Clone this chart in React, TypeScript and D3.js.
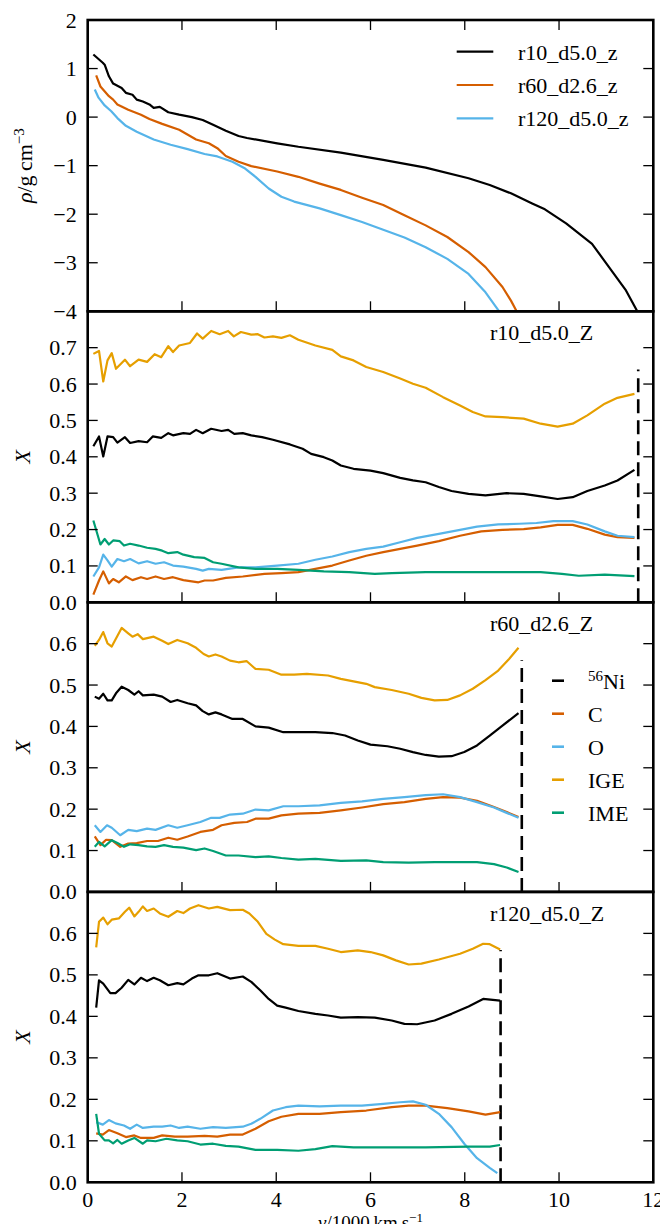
import React from "react";
import * as d3 from "d3";

// ---------- data ----------
type Pt = [number, number];

const densityLabels = ["r10_d5.0_z", "r60_d2.6_z", "r120_d5.0_z"];

// log10 density vs velocity (1000 km/s)
const rhoR10: Pt[] = [
  [0.12, 1.29], [0.32, 1.12], [0.36, 1.08], [0.45, 0.84], [0.54, 0.69], [0.72, 0.6], [0.81, 0.5],
  [0.95, 0.46], [1.04, 0.36], [1.17, 0.32], [1.31, 0.26], [1.4, 0.19], [1.53, 0.21], [1.71, 0.1],
  [1.94, 0.05], [2.21, 0.0], [2.44, -0.06], [2.66, -0.16], [2.93, -0.28], [3.2, -0.39], [3.38, -0.43],
  [4.02, -0.54], [4.47, -0.61], [5.37, -0.73], [6.27, -0.88], [7.17, -1.04], [8.08, -1.26],
  [8.53, -1.4], [8.98, -1.57], [9.43, -1.78], [9.7, -1.9], [10.15, -2.19], [10.7, -2.61],
  [11.06, -3.09], [11.42, -3.57], [11.66, -4.0],
];
const rhoR60: Pt[] = [
  [0.18, 0.86], [0.27, 0.63], [0.45, 0.43], [0.54, 0.36], [0.63, 0.26], [0.86, 0.15], [1.13, 0.05],
  [1.31, -0.04], [1.58, -0.14], [1.94, -0.26], [2.3, -0.46], [2.57, -0.54], [2.75, -0.64],
  [2.93, -0.8], [3.2, -0.92], [3.47, -1.01], [4.02, -1.12], [4.47, -1.23], [4.92, -1.37],
  [5.37, -1.5], [5.82, -1.66], [6.27, -1.81], [6.72, -2.02], [7.17, -2.23], [7.63, -2.47],
  [8.08, -2.78], [8.44, -3.09], [8.8, -3.5], [8.98, -3.78], [9.1, -4.0],
];
const rhoR120: Pt[] = [
  [0.15, 0.57], [0.23, 0.4], [0.36, 0.24], [0.5, 0.12], [0.63, -0.02], [0.81, -0.18], [1.04, -0.3],
  [1.4, -0.46], [1.76, -0.57], [2.12, -0.66], [2.48, -0.76], [2.75, -0.81], [3.07, -0.92],
  [3.34, -1.06], [3.56, -1.23], [3.84, -1.47], [4.11, -1.64], [4.38, -1.74], [4.92, -1.88],
  [5.37, -2.02], [5.82, -2.16], [6.27, -2.32], [6.72, -2.48], [7.17, -2.68], [7.63, -2.92],
  [8.08, -3.23], [8.44, -3.61], [8.73, -4.0],
];

const speciesNames = ["Ni", "C", "O", "IGE", "IME"];
const modelTitles = ["r10_d5.0_Z", "r60_d2.6_Z", "r120_d5.0_Z"];
// outer edge of the 56Ni region for each model
const niEdge = [11.68, 9.21, 8.76];

// mass fractions, model r10_d5.0_Z
const r10Ni: Pt[] = [
  [0.12, 0.429], [0.24, 0.456], [0.33, 0.401], [0.42, 0.456], [0.54, 0.454], [0.63, 0.439],
  [0.79, 0.454], [0.9, 0.438], [1.08, 0.443], [1.26, 0.44], [1.38, 0.456], [1.56, 0.452],
  [1.71, 0.465], [1.81, 0.459], [2.03, 0.465], [2.17, 0.463], [2.3, 0.474], [2.44, 0.465],
  [2.62, 0.477], [2.84, 0.471], [2.98, 0.474], [3.11, 0.463], [3.29, 0.465], [3.47, 0.459],
  [3.7, 0.454], [3.93, 0.447], [4.29, 0.434], [4.56, 0.422], [4.74, 0.408], [5.01, 0.399],
  [5.19, 0.39], [5.37, 0.376], [5.64, 0.367], [6.0, 0.362], [6.27, 0.355], [6.63, 0.342],
  [6.9, 0.335], [7.17, 0.33], [7.45, 0.317], [7.72, 0.306], [8.08, 0.298], [8.44, 0.294],
  [8.89, 0.3], [9.25, 0.298], [9.61, 0.291], [9.97, 0.284], [10.29, 0.289], [10.6, 0.306],
  [10.97, 0.321], [11.24, 0.335], [11.6, 0.364],
];
const r10C: Pt[] = [
  [0.12, 0.021], [0.24, 0.06], [0.33, 0.085], [0.45, 0.052], [0.54, 0.064], [0.66, 0.055],
  [0.81, 0.071], [0.95, 0.061], [1.13, 0.069], [1.26, 0.064], [1.44, 0.071], [1.62, 0.064],
  [1.81, 0.069], [2.03, 0.061], [2.35, 0.055], [2.48, 0.06], [2.66, 0.06], [2.93, 0.067],
  [3.29, 0.071], [3.75, 0.078], [4.11, 0.08], [4.47, 0.083], [4.83, 0.092], [5.19, 0.101],
  [5.55, 0.115], [5.91, 0.128], [6.27, 0.138], [6.63, 0.147], [6.99, 0.156], [7.45, 0.168],
  [7.9, 0.183], [8.35, 0.195], [8.8, 0.199], [9.25, 0.201], [9.61, 0.206], [9.97, 0.213],
  [10.29, 0.213], [10.6, 0.202], [10.97, 0.186], [11.24, 0.179], [11.6, 0.177],
];
const r10O: Pt[] = [
  [0.12, 0.071], [0.24, 0.096], [0.33, 0.131], [0.42, 0.115], [0.51, 0.098], [0.63, 0.119],
  [0.77, 0.113], [0.9, 0.119], [1.08, 0.107], [1.26, 0.113], [1.44, 0.106], [1.62, 0.11],
  [1.81, 0.101], [2.03, 0.098], [2.3, 0.092], [2.44, 0.087], [2.57, 0.092], [2.84, 0.089],
  [3.2, 0.096], [3.56, 0.096], [4.02, 0.101], [4.47, 0.106], [4.83, 0.117], [5.19, 0.126],
  [5.55, 0.138], [5.91, 0.147], [6.27, 0.153], [6.63, 0.165], [6.99, 0.177], [7.45, 0.188],
  [7.9, 0.199], [8.26, 0.208], [8.71, 0.214], [9.16, 0.216], [9.52, 0.218], [9.88, 0.223],
  [10.29, 0.223], [10.6, 0.214], [10.97, 0.195], [11.24, 0.183], [11.6, 0.179],
];
const r10IGE: Pt[] = [
  [0.12, 0.683], [0.24, 0.691], [0.33, 0.607], [0.42, 0.665], [0.51, 0.685], [0.6, 0.642],
  [0.79, 0.667], [0.9, 0.649], [1.08, 0.667], [1.26, 0.661], [1.42, 0.682], [1.56, 0.674],
  [1.71, 0.704], [1.81, 0.688], [1.94, 0.706], [2.17, 0.713], [2.32, 0.739], [2.44, 0.725],
  [2.62, 0.746], [2.8, 0.737], [2.98, 0.746], [3.1, 0.731], [3.25, 0.743], [3.47, 0.736],
  [3.61, 0.737], [3.75, 0.728], [3.93, 0.731], [4.11, 0.727], [4.29, 0.734], [4.47, 0.722],
  [4.83, 0.706], [5.19, 0.694], [5.37, 0.676], [5.64, 0.665], [5.91, 0.647], [6.27, 0.633],
  [6.63, 0.615], [6.9, 0.601], [7.17, 0.59], [7.54, 0.564], [7.9, 0.541], [8.17, 0.523],
  [8.44, 0.511], [8.8, 0.509], [9.25, 0.505], [9.61, 0.491], [9.97, 0.483], [10.29, 0.491],
  [10.6, 0.514], [10.97, 0.546], [11.24, 0.562], [11.6, 0.573],
];
const r10IME: Pt[] = [
  [0.12, 0.225], [0.27, 0.159], [0.36, 0.174], [0.45, 0.159], [0.54, 0.17], [0.68, 0.168],
  [0.77, 0.156], [0.9, 0.161], [1.08, 0.156], [1.26, 0.15], [1.44, 0.147], [1.58, 0.142],
  [1.71, 0.135], [1.9, 0.138], [2.03, 0.131], [2.26, 0.124], [2.48, 0.122], [2.66, 0.11],
  [2.84, 0.106], [3.2, 0.096], [3.56, 0.092], [4.02, 0.092], [4.47, 0.089], [5.01, 0.085],
  [5.55, 0.083], [6.09, 0.078], [6.45, 0.08], [7.17, 0.083], [8.08, 0.083], [8.98, 0.083],
  [9.61, 0.083], [10.06, 0.078], [10.42, 0.073], [10.97, 0.076], [11.6, 0.072],
];

// mass fractions, model r60_d2.6_Z
const r60Ni: Pt[] = [
  [0.15, 0.472], [0.24, 0.467], [0.33, 0.479], [0.42, 0.463], [0.51, 0.463], [0.6, 0.48],
  [0.72, 0.496], [0.86, 0.488], [0.99, 0.477], [1.08, 0.485], [1.17, 0.475], [1.4, 0.477],
  [1.58, 0.472], [1.76, 0.459], [1.9, 0.464], [2.12, 0.456], [2.3, 0.451], [2.44, 0.437],
  [2.57, 0.429], [2.71, 0.434], [2.84, 0.429], [3.07, 0.418], [3.29, 0.418], [3.56, 0.4],
  [3.84, 0.397], [4.15, 0.386], [4.47, 0.386], [4.83, 0.386], [5.19, 0.384], [5.46, 0.378],
  [5.73, 0.366], [6.0, 0.356], [6.36, 0.352], [6.63, 0.346], [6.9, 0.338], [7.17, 0.331],
  [7.45, 0.327], [7.72, 0.328], [7.99, 0.338], [8.26, 0.354], [8.53, 0.378], [8.8, 0.402],
  [9.14, 0.432],
];
const r60C: Pt[] = [
  [0.15, 0.134], [0.27, 0.113], [0.39, 0.126], [0.51, 0.125], [0.69, 0.109], [0.86, 0.117],
  [1.04, 0.118], [1.26, 0.123], [1.49, 0.123], [1.71, 0.131], [1.9, 0.126], [2.12, 0.134],
  [2.39, 0.145], [2.66, 0.15], [2.84, 0.161], [3.11, 0.167], [3.38, 0.169], [3.56, 0.177],
  [3.84, 0.177], [4.11, 0.185], [4.47, 0.189], [4.92, 0.191], [5.37, 0.197], [5.82, 0.204],
  [6.27, 0.212], [6.72, 0.217], [7.17, 0.225], [7.54, 0.229], [7.9, 0.228], [8.26, 0.22],
  [8.62, 0.205], [8.89, 0.193], [9.14, 0.181],
];
const r60O: Pt[] = [
  [0.15, 0.161], [0.27, 0.145], [0.41, 0.161], [0.51, 0.155], [0.69, 0.137], [0.86, 0.15],
  [1.04, 0.147], [1.26, 0.153], [1.44, 0.15], [1.71, 0.161], [1.9, 0.155], [2.12, 0.161],
  [2.39, 0.169], [2.62, 0.179], [2.8, 0.179], [3.02, 0.187], [3.29, 0.189], [3.56, 0.199],
  [3.84, 0.197], [4.15, 0.207], [4.47, 0.207], [4.92, 0.209], [5.37, 0.215], [5.82, 0.219],
  [6.27, 0.225], [6.72, 0.229], [7.17, 0.234], [7.54, 0.236], [7.9, 0.229], [8.26, 0.217],
  [8.62, 0.204], [8.89, 0.191], [9.14, 0.179],
];
const r60IGE: Pt[] = [
  [0.15, 0.595], [0.24, 0.609], [0.33, 0.628], [0.42, 0.601], [0.51, 0.593], [0.72, 0.638],
  [0.86, 0.625], [0.95, 0.617], [1.06, 0.623], [1.17, 0.611], [1.4, 0.617], [1.58, 0.607],
  [1.71, 0.599], [1.9, 0.609], [2.12, 0.601], [2.3, 0.59], [2.46, 0.575], [2.57, 0.569],
  [2.71, 0.574], [2.84, 0.569], [3.02, 0.559], [3.2, 0.555], [3.37, 0.558], [3.56, 0.539],
  [3.84, 0.537], [4.11, 0.525], [4.38, 0.525], [4.65, 0.527], [5.1, 0.523], [5.37, 0.515],
  [5.64, 0.509], [5.91, 0.503], [6.09, 0.495], [6.45, 0.488], [6.81, 0.479], [7.08, 0.469],
  [7.36, 0.463], [7.63, 0.464], [7.9, 0.475], [8.17, 0.491], [8.44, 0.512], [8.71, 0.535],
  [8.94, 0.563], [9.14, 0.59],
];
const r60IME: Pt[] = [
  [0.15, 0.109], [0.24, 0.121], [0.36, 0.11], [0.51, 0.125], [0.63, 0.118], [0.77, 0.109],
  [0.9, 0.115], [1.08, 0.113], [1.26, 0.11], [1.44, 0.109], [1.62, 0.113], [1.81, 0.109],
  [2.03, 0.107], [2.3, 0.101], [2.48, 0.105], [2.66, 0.099], [2.93, 0.088], [3.2, 0.088],
  [3.56, 0.084], [3.84, 0.086], [4.11, 0.082], [4.47, 0.078], [4.83, 0.08], [5.37, 0.075],
  [5.91, 0.076], [6.27, 0.072], [6.81, 0.071], [7.36, 0.072], [7.9, 0.072], [8.26, 0.072],
  [8.62, 0.067], [8.89, 0.059], [9.14, 0.048],
];

// mass fractions, model r120_d5.0_Z
const r120Ni: Pt[] = [
  [0.18, 0.421], [0.24, 0.487], [0.33, 0.479], [0.48, 0.456], [0.59, 0.456], [0.72, 0.469],
  [0.86, 0.488], [0.99, 0.477], [1.13, 0.493], [1.26, 0.485], [1.4, 0.493], [1.53, 0.487],
  [1.71, 0.475], [1.9, 0.48], [2.03, 0.477], [2.21, 0.491], [2.35, 0.499], [2.57, 0.499],
  [2.75, 0.504], [3.02, 0.491], [3.29, 0.496], [3.47, 0.483], [3.66, 0.463], [3.84, 0.442],
  [4.02, 0.426], [4.2, 0.421], [4.47, 0.413], [4.83, 0.406], [5.1, 0.402], [5.37, 0.397],
  [5.73, 0.398], [6.09, 0.397], [6.45, 0.39], [6.72, 0.382], [6.99, 0.381], [7.36, 0.39],
  [7.72, 0.406], [8.08, 0.424], [8.39, 0.442], [8.75, 0.438],
];
const r120C: Pt[] = [
  [0.18, 0.118], [0.32, 0.115], [0.45, 0.126], [0.63, 0.118], [0.81, 0.109], [0.99, 0.113],
  [1.13, 0.107], [1.4, 0.107], [1.58, 0.113], [1.85, 0.11], [2.12, 0.11], [2.48, 0.112],
  [2.75, 0.11], [3.02, 0.115], [3.29, 0.115], [3.56, 0.129], [3.84, 0.147], [4.11, 0.158],
  [4.47, 0.165], [4.92, 0.165], [5.37, 0.169], [5.91, 0.173], [6.45, 0.181], [6.81, 0.185],
  [7.17, 0.185], [7.63, 0.179], [8.08, 0.171], [8.44, 0.163], [8.75, 0.169],
];
const r120O: Pt[] = [
  [0.18, 0.145], [0.32, 0.139], [0.45, 0.15], [0.59, 0.142], [0.77, 0.137], [0.9, 0.129],
  [1.04, 0.139], [1.17, 0.131], [1.4, 0.134], [1.58, 0.134], [1.76, 0.137], [1.94, 0.131],
  [2.12, 0.134], [2.39, 0.129], [2.66, 0.133], [2.93, 0.131], [3.29, 0.134], [3.47, 0.141],
  [3.66, 0.153], [3.93, 0.173], [4.2, 0.181], [4.47, 0.185], [4.92, 0.183], [5.37, 0.185],
  [5.82, 0.185], [6.27, 0.189], [6.63, 0.193], [6.9, 0.195], [7.17, 0.187], [7.45, 0.165],
  [7.72, 0.133], [7.99, 0.093], [8.26, 0.058], [8.53, 0.035], [8.69, 0.022],
];
const r120IGE: Pt[] = [
  [0.18, 0.566], [0.24, 0.628], [0.33, 0.638], [0.42, 0.622], [0.51, 0.633], [0.66, 0.636],
  [0.79, 0.652], [0.88, 0.662], [0.99, 0.641], [1.08, 0.652], [1.17, 0.665], [1.26, 0.654],
  [1.4, 0.66], [1.53, 0.648], [1.71, 0.64], [1.9, 0.654], [2.03, 0.649], [2.17, 0.66],
  [2.35, 0.668], [2.57, 0.66], [2.75, 0.664], [3.02, 0.656], [3.29, 0.657], [3.43, 0.648],
  [3.61, 0.628], [3.79, 0.599], [3.97, 0.585], [4.15, 0.574], [4.47, 0.57], [4.83, 0.57],
  [5.1, 0.563], [5.37, 0.555], [5.73, 0.559], [6.0, 0.555], [6.27, 0.547], [6.54, 0.535],
  [6.81, 0.525], [7.08, 0.527], [7.45, 0.537], [7.9, 0.551], [8.17, 0.563], [8.39, 0.575],
  [8.53, 0.574], [8.75, 0.561],
];
const r120IME: Pt[] = [
  [0.18, 0.165], [0.24, 0.117], [0.36, 0.101], [0.45, 0.101], [0.54, 0.094], [0.63, 0.102],
  [0.72, 0.093], [0.86, 0.101], [0.99, 0.107], [1.17, 0.093], [1.26, 0.101], [1.44, 0.099],
  [1.67, 0.105], [1.9, 0.101], [2.12, 0.099], [2.39, 0.091], [2.66, 0.093], [2.93, 0.088],
  [3.2, 0.086], [3.56, 0.078], [4.02, 0.078], [4.47, 0.076], [4.83, 0.08], [5.19, 0.087],
  [5.64, 0.084], [6.27, 0.084], [7.17, 0.084], [8.08, 0.086], [8.53, 0.086], [8.75, 0.09],
];

const velocityTicks = [0, 2, 4, 6, 8, 10, 12];
const rhoTicks = [-4, -3, -2, -1, 0, 1, 2];

// ---------- styling ----------
const FONT = "Liberation Serif, Times New Roman, DejaVu Serif, serif";
const densityColors = ["#000000", "#D55E00", "#56B4E9"];
const speciesColors = ["#000000", "#D55E00", "#56B4E9", "#E69F00", "#009E73"];

const W = 668;
const H = 1232;
const LEFT = 87.7;
const RIGHT = 653.3;
const panelTop = [20, 311.3, 602.3, 891.9];
const panelBottom = [311.3, 602.3, 891.9, 1182.3];
const LW = 2.2;
const TICK = 10;
const FS = 22;

const x = d3.scaleLinear().domain([0, 12]).range([LEFT, RIGHT]);

function Ticks({ top, bottom, y, yTicks, topTicks }: any) {
  return (
    <g stroke="#000" strokeWidth={1.3}>
      {velocityTicks.map((t) => (
        <line key={"b" + t} x1={x(t)} x2={x(t)} y1={bottom} y2={bottom - TICK} />
      ))}
      {topTicks &&
        velocityTicks.map((t) => (
          <line key={"t" + t} x1={x(t)} x2={x(t)} y1={top} y2={top + TICK} />
        ))}
      {yTicks.map((t: number) => (
        <g key={"y" + t}>
          <line x1={LEFT} x2={LEFT + TICK} y1={y(t)} y2={y(t)} />
          <line x1={RIGHT} x2={RIGHT - TICK} y1={y(t)} y2={y(t)} />
        </g>
      ))}
    </g>
  );
}

function YLabels({ y, ticks, fmt }: any) {
  return (
    <g style={{ fontFamily: FONT }} fontSize={FS} textAnchor="end">
      {ticks.map((t: number) => (
        <text key={t} x={LEFT - 11} y={y(t) + 7.5}>
          {fmt(t)}
        </text>
      ))}
    </g>
  );
}

export default function App() {
  const lineFor = (y: d3.ScaleLinear<number, number>) =>
    d3
      .line<Pt>()
      .x((d) => x(d[0]))
      .y((d) => y(d[1]));

  // density panel
  const yRho = d3.scaleLinear().domain([-4, 2]).range([panelBottom[0], panelTop[0]]);
  const rhoSeries = [rhoR10, rhoR60, rhoR120];

  // abundance panels
  const models = [
    { series: [r10Ni, r10C, r10O, r10IGE, r10IME], max: 0.8 },
    { series: [r60Ni, r60C, r60O, r60IGE, r60IME], max: 0.7 },
    { series: [r120Ni, r120C, r120O, r120IGE, r120IME], max: 0.7 },
  ];
  const fracFmt = d3.format(".1f");
  const rhoFmt = d3.format("d");

  return (
    <svg width={W} height={H} style={{ display: "block", margin: "-8px" }} viewBox={`0 0 ${W} ${H}`}>
      <rect width={W} height={H} fill="#fff" />
      <defs>
        {panelTop.map((t, i) => (
          <clipPath id={"clip" + i} key={i}>
            <rect x={LEFT} y={t} width={RIGHT - LEFT} height={panelBottom[i] - t} />
          </clipPath>
        ))}
      </defs>

      {/* density profiles */}
      <g clipPath="url(#clip0)" fill="none" strokeWidth={LW} strokeLinejoin="round">
        {rhoSeries.map((s, i) => (
          <path key={i} d={lineFor(yRho)(s) || ""} stroke={densityColors[i]} />
        ))}
      </g>
      <Ticks top={panelTop[0]} bottom={panelBottom[0]} y={yRho} yTicks={rhoTicks} topTicks />
      <YLabels y={yRho} ticks={rhoTicks} fmt={rhoFmt} />
      <g style={{ fontFamily: FONT }} fontSize={FS}>
        {densityLabels.map((lab, i) => {
          const ly = 51.7 + i * 33.3;
          return (
            <g key={lab}>
              <line x1={456.7} x2={493.3} y1={ly} y2={ly} stroke={densityColors[i]} strokeWidth={LW} />
              <text x={518} y={ly + 8}>
                {lab}
              </text>
            </g>
          );
        })}
      </g>
      <text
        transform={`translate(32,${(panelTop[0] + panelBottom[0]) / 2}) rotate(-90)`}
        style={{ fontFamily: FONT }}
        fontSize={FS}
        textAnchor="middle"
      >
        <tspan fontStyle="italic">ρ</tspan>
        <tspan>{"/g\u2009cm"}</tspan>
        <tspan dy={-8} fontSize={15}>
          −3
        </tspan>
      </text>

      {/* mass-fraction panels */}
      {models.map((m, k) => {
        const p = k + 1;
        const y = d3.scaleLinear().domain([0, m.max]).range([panelBottom[p], panelTop[p]]);
        const yTicks = d3.range(0, m.max + 0.001, 0.1).map((v) => +v.toFixed(1));
        const labelTicks = yTicks.filter((t) => t < m.max - 0.001);
        return (
          <g key={k}>
            <g clipPath={`url(#clip${p})`} fill="none" strokeWidth={LW} strokeLinejoin="round">
              <line
                x1={x(niEdge[k])}
                x2={x(niEdge[k])}
                y1={y(0)}
                y2={y(0.8 * m.max)}
                stroke="#000"
                strokeWidth={2.6}
                strokeDasharray="14,7"
              />
              {m.series.map((s, i) => (
                <path key={i} d={lineFor(y)(s) || ""} stroke={speciesColors[i]} />
              ))}
            </g>
            <Ticks top={panelTop[p]} bottom={panelBottom[p]} y={y} yTicks={yTicks} topTicks={false} />
            <YLabels y={y} ticks={labelTicks} fmt={fracFmt} />
            <text x={490} y={panelTop[p] + 29} style={{ fontFamily: FONT }} fontSize={FS}>
              {modelTitles[k]}
            </text>
            <text
              transform={`translate(30,${(panelTop[p] + panelBottom[p]) / 2}) rotate(-90)`}
              style={{ fontFamily: FONT }}
              fontSize={FS}
              fontStyle="italic"
              textAnchor="middle"
            >
              X
            </text>
          </g>
        );
      })}

      {/* species legend */}
      <g style={{ fontFamily: FONT }} fontSize={FS}>
        {speciesNames.map((name, i) => {
          const ly = 680.7 + i * 33;
          return (
            <g key={name}>
              <line x1={552} x2={564} y1={ly} y2={ly} stroke={speciesColors[i]} strokeWidth={LW + 0.4} />
              {name === "Ni" ? (
                <text x={588} y={ly + 8.5}>
                  <tspan fontSize={15} dy={-8}>
                    56
                  </tspan>
                  <tspan dy={8}>Ni</tspan>
                </text>
              ) : (
                <text x={588} y={ly + 8.5}>
                  {name}
                </text>
              )}
            </g>
          );
        })}
      </g>

      {/* frames */}
      {panelTop.map((t, i) => (
        <rect
          key={i}
          x={LEFT}
          y={t}
          width={RIGHT - LEFT}
          height={panelBottom[i] - t}
          fill="none"
          stroke="#000"
          strokeWidth={2.6}
        />
      ))}

      {/* velocity axis */}
      <g style={{ fontFamily: FONT }} textAnchor="middle">
        {velocityTicks.map((t) => (
          <text key={t} x={x(t)} y={panelBottom[3] + 25} fontSize={FS}>
            {t}
          </text>
        ))}
        <text x={(LEFT + RIGHT) / 2} y={1229} fontSize={19}>
          <tspan fontStyle="italic">v</tspan>
          <tspan>{"/1000\u2009km\u2009s"}</tspan>
          <tspan dy={-7} fontSize={13}>
            −1
          </tspan>
        </text>
      </g>
    </svg>
  );
}
